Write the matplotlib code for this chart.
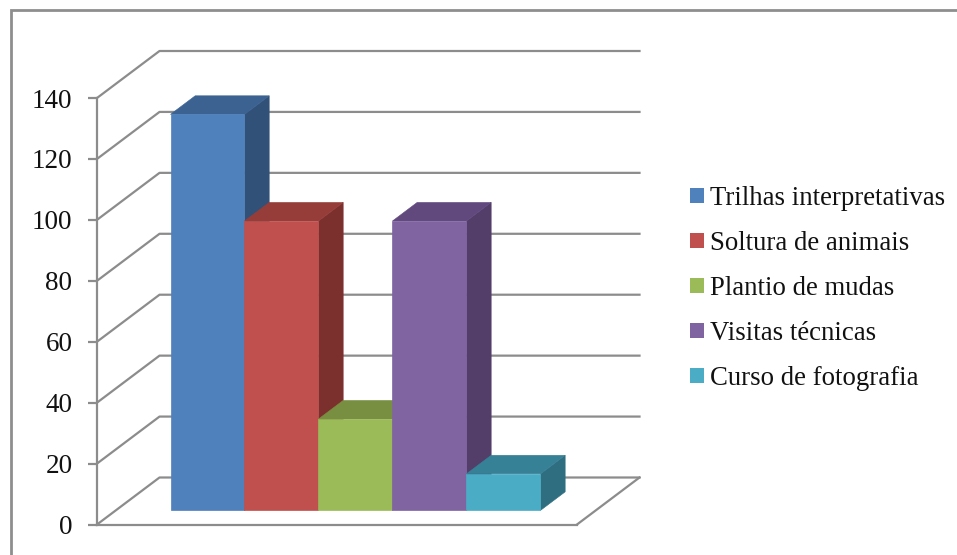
import matplotlib
matplotlib.use("Agg")
import matplotlib.pyplot as plt
from matplotlib.patches import Patch, Polygon, Rectangle
from matplotlib.lines import Line2D
from matplotlib.transforms import Affine2D, IdentityTransform

categories = ["Trilhas interpretativas", "Soltura de animais", "Plantio de mudas",
              "Visitas técnicas", "Curso de fotografia"]
values = [130, 95, 30, 95, 12]
y_ticks = [0, 20, 40, 60, 80, 100, 120, 140]

front_colors = ["#4F81BD", "#C0504D", "#9BBB59", "#8064A2", "#4BACC6"]
top_colors = ["#3B6290", "#963D3A", "#788F41", "#61497E", "#378197"]
side_colors = ["#315178", "#7C302E", "#637736", "#523E69", "#2F6E80"]
GRID = "#8C8C8C"
FONT = "Liberation Serif"

W, H = 957, 555
fig = plt.figure(figsize=(W / 100, H / 100), dpi=100, facecolor="white")

# Outer chart frame, which runs off the right and bottom of the image
fig.add_artist(Rectangle((10.5 / W, -0.05), 1.1, 1.05 - 10 / H, transform=fig.transFigure,
                         fill=False, edgecolor="#8E8E8E", linewidth=2.0))

ax = fig.add_axes([97 / W, (H - 524.5) / H, 480 / W, 426.5 / H], facecolor="none")
ax.set_xlim(-3.24, 3.247)
ax.set_ylim(0, 140)

DEPTH_X, DEPTH_Y = 62.5, 47.0
BAR_NEAR, BAR_FAR = 0.30, 0.695
ident = IdentityTransform()


def project(x, v, depth):
    px, py = ax.transData.transform((x, v))
    return px + DEPTH_X * depth, py + DEPTH_Y * depth


x_lo, x_hi = ax.get_xlim()

# Side wall and back wall gridlines
for t in y_ticks:
    pts = [project(x_lo, t, 0), project(x_lo, t, 1), project(x_hi, t, 1)]
    ax.add_line(Line2D(*zip(*pts), transform=ident, color=GRID, lw=1.6, zorder=1, clip_on=False))
# Floor edge on the right
pts = [project(x_hi, 0, 0), project(x_hi, 0, 1)]
ax.add_line(Line2D(*zip(*pts), transform=ident, color=GRID, lw=1.6, zorder=1, clip_on=False))

# Bars: front through the library's bar, side and top from the same scale
xpos = [i - 2 for i in range(len(values))]
front_tr = ax.transData + Affine2D().translate(DEPTH_X * BAR_NEAR, DEPTH_Y * BAR_NEAR)
for i, (x, v) in enumerate(zip(xpos, values)):
    l, r = x - 0.5, x + 0.5
    z = 3 + i
    side = [project(r, 0, BAR_NEAR), project(r, 0, BAR_FAR),
            project(r, v, BAR_FAR), project(r, v, BAR_NEAR)]
    top = [project(l, v, BAR_NEAR), project(r, v, BAR_NEAR),
           project(r, v, BAR_FAR), project(l, v, BAR_FAR)]
    ax.add_patch(Polygon(side, closed=True, transform=ident, facecolor=side_colors[i],
                         edgecolor=side_colors[i], linewidth=0.4, zorder=z, clip_on=False))
    ax.add_patch(Polygon(top, closed=True, transform=ident, facecolor=top_colors[i],
                         edgecolor=top_colors[i], linewidth=0.4, zorder=z, clip_on=False))
    ax.bar(x, v, width=1.0, color=front_colors[i], edgecolor=front_colors[i], linewidth=0.5,
           transform=front_tr, zorder=z + 0.5, clip_on=False)
ax.set_xlim(x_lo, x_hi)
ax.set_ylim(0, 140)

for s in ("top", "right"):
    ax.spines[s].set_visible(False)
for s in ("left", "bottom"):
    ax.spines[s].set_color(GRID)
    ax.spines[s].set_linewidth(1.6)
ax.set_xticks([])
ax.set_yticks(y_ticks)
ax.tick_params(axis="y", length=6.2, width=1.6, color=GRID, pad=11.5)
for lab in ax.get_yticklabels():
    lab.set_fontfamily(FONT)
    lab.set_fontsize(19.5)
    lab.set_color("#111111")

handles = [Patch(facecolor=c, edgecolor="none") for c in front_colors]
fig.legend(handles, categories, loc="center left", bbox_to_anchor=(690 / W, (H - 288.5) / H),
           frameon=False, prop={"family": FONT, "size": 19.3}, labelspacing=0.745,
           handlelength=0.53, handleheight=0.53, handletextpad=0.2,
           borderpad=0, borderaxespad=0, labelcolor="#111111")

fig.savefig("out.png", dpi=100)
